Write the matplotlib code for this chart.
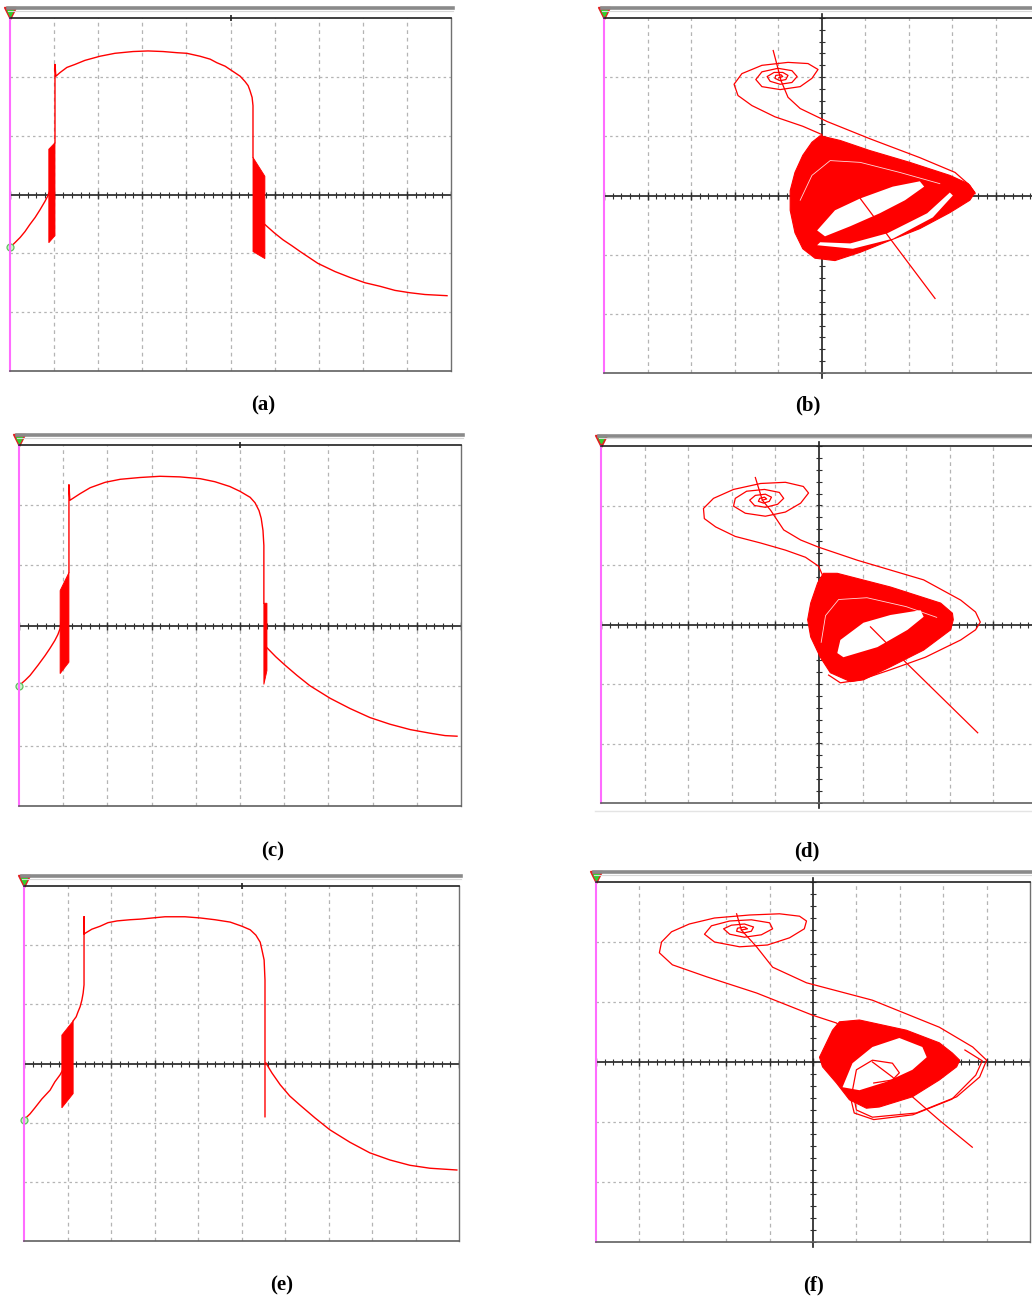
import matplotlib.pyplot as plt
import numpy as np

plt.rcParams['font.family'] = ['Liberation Serif', 'DejaVu Serif']

RED = '#ff0000'
W, H = 1032, 1301

# ---------------- time traces, x in divisions 0..10, y in divisions -3..3
a_rise_x = [0, 0.11, 0.23, 0.34, 0.45, 0.57, 0.68, 0.79, 0.86, 0.93]
a_rise_y = [-0.90, -0.82, -0.73, -0.63, -0.51, -0.39, -0.26, -0.12, -0.02, 0.12]
a_band1_x = [0.88, 1.02, 1.02, 0.88]
a_band1_y = [0.77, 0.88, -0.70, -0.82]
a_arc_x = [1.02, 1.02, 1.04, 1.13, 1.29, 1.47, 1.70, 2.04, 2.38, 2.79, 3.13, 3.47, 3.79, 4.01, 4.31,
           4.54, 4.69, 4.88, 5.06, 5.22, 5.33, 5.40, 5.44, 5.49, 5.51, 5.51, 5.51]
a_arc_y = [0.88, 2.21, 2.01, 2.07, 2.16, 2.21, 2.28, 2.35, 2.40, 2.43, 2.44, 2.43, 2.41, 2.40, 2.35,
           2.30, 2.24, 2.18, 2.09, 2.01, 1.92, 1.85, 1.77, 1.65, 1.51, 1.36, 0.63]
a_band2_x = [5.51, 5.78, 5.78, 5.51]
a_band2_y = [0.63, 0.31, -1.09, -0.97]
a_decay_x = [5.78, 5.99, 6.19, 6.39, 6.58, 6.98, 7.37, 7.71, 8.05, 8.39, 8.73, 9.07, 9.41, 9.91]
a_decay_y = [-0.51, -0.65, -0.77, -0.87, -0.97, -1.17, -1.31, -1.41, -1.50, -1.56, -1.63, -1.67, -1.70, -1.72]

c_rise_x = [0, 0.14, 0.25, 0.43, 0.59, 0.70, 0.81, 0.88, 0.93, 0.97]
c_rise_y = [-1.00, -0.91, -0.83, -0.66, -0.50, -0.38, -0.25, -0.15, -0.05, 0.17]
c_band1_x = [0.93, 1.13, 1.13, 0.93]
c_band1_y = [0.58, 0.88, -0.61, -0.80]
c_arc_x = [1.13, 1.13, 1.15, 1.38, 1.61, 1.95, 2.29, 2.74, 3.19, 3.64, 4.10, 4.43, 4.77, 5.00, 5.23,
           5.34, 5.43, 5.48, 5.52, 5.54, 5.54, 5.54]
c_arc_y = [0.88, 2.34, 2.08, 2.19, 2.29, 2.38, 2.43, 2.46, 2.48, 2.47, 2.44, 2.39, 2.31, 2.23, 2.13,
           2.04, 1.91, 1.78, 1.58, 1.33, 1.08, 0.37]
c_band2_x = [5.54, 5.61, 5.61, 5.54]
c_band2_y = [0.37, 0.37, -0.75, -0.98]
c_decay_x = [5.61, 5.81, 6.02, 6.29, 6.58, 7.04, 7.49, 7.94, 8.39, 8.85, 9.30, 9.64, 9.91]
c_decay_y = [-0.37, -0.52, -0.66, -0.83, -1.00, -1.21, -1.38, -1.53, -1.64, -1.73, -1.79, -1.83, -1.84]

e_rise_x = [0, 0.14, 0.25, 0.41, 0.60, 0.71, 0.83, 0.92, 0.97]
e_rise_y = [-0.95, -0.85, -0.75, -0.60, -0.45, -0.31, -0.19, -0.07, 0.01]
e_band1_x = [0.87, 1.13, 1.13, 0.87]
e_band1_y = [0.48, 0.72, -0.51, -0.75]
e_arc_x = [1.13, 1.20, 1.24, 1.29, 1.33, 1.36, 1.38, 1.38, 1.38, 1.56, 1.75, 1.93, 2.14, 2.44, 2.67,
           3.24, 3.70, 4.05, 4.39, 4.74, 5.01, 5.20, 5.33, 5.43, 5.47, 5.52, 5.54, 5.54, 5.54]
e_arc_y = [0.72, 0.79, 0.87, 0.96, 1.07, 1.19, 1.33, 2.48, 2.19, 2.27, 2.32, 2.38, 2.41, 2.43, 2.44,
           2.48, 2.48, 2.46, 2.43, 2.39, 2.32, 2.26, 2.17, 2.05, 1.92, 1.75, 1.41, 1.07, -0.90]
e_decay_x = [5.56, 5.70, 5.89, 6.11, 6.34, 6.69, 7.03, 7.49, 7.95, 8.41, 8.87, 9.33, 9.95]
e_decay_y = [0.01, -0.16, -0.36, -0.55, -0.70, -0.92, -1.12, -1.33, -1.51, -1.63, -1.72, -1.77, -1.80]

# ---------------- phase portraits, x in divisions -5..5, y -3..3
b_spiral_x = [-0.98, -0.89, -0.93, -1.05, -1.07, -0.95, -0.82, -0.77, -0.89, -1.09, -1.25, -1.18, -0.95,
              -0.68, -0.56, -0.68, -1.00, -1.37, -1.51, -1.37, -0.95, -0.49, -0.22, -0.08, -0.31, -0.77,
              -1.37, -1.83, -2.01, -1.92, -1.60, -1.07, -0.43, 0.01, 0.0]
b_spiral_y = [1.99, 2.01, 2.04, 2.03, 1.98, 1.94, 1.96, 2.03, 2.08, 2.08, 2.01, 1.93, 1.88,
              1.91, 2.01, 2.11, 2.15, 2.09, 1.96, 1.84, 1.79, 1.84, 1.98, 2.13, 2.23, 2.25,
              2.20, 2.06, 1.88, 1.69, 1.52, 1.33, 1.17, 1.03, 0.98]
b_diag_x = [-1.11, -1.02, -0.93, -0.77, -0.49, 0.13, 1.11, 2.26, 3.07, 3.41, 3.53]
b_diag_y = [2.45, 2.20, 1.94, 1.66, 1.47, 1.25, 0.96, 0.64, 0.39, 0.17, 0.03]
b_att_x = [-0.03, 0.43, 1.11, 2.03, 2.95, 3.37, 3.53, 3.41, 2.95, 2.26, 1.57, 0.89, 0.31, -0.15,
           -0.43, -0.61, -0.72, -0.72, -0.61, -0.43, -0.22]
b_att_y = [1.01, 0.93, 0.76, 0.56, 0.34, 0.20, 0.05, -0.08, -0.29, -0.56, -0.76, -0.96, -1.10, -1.06,
           -0.90, -0.63, -0.25, 0.08, 0.39, 0.68, 0.90]
b_hole1_x = [-0.10, 0.31, 0.89, 1.64, 2.26, 2.36, 1.92, 1.34, 0.66, 0.08]
b_hole1_y = [-0.59, -0.25, -0.05, 0.15, 0.24, 0.15, -0.08, -0.30, -0.52, -0.69]
b_hole2_x = [-0.10, 0.72, 1.64, 2.56, 3.02, 2.95, 2.43, 1.51, 0.66, -0.03]
b_hole2_y = [-0.84, -0.90, -0.73, -0.37, 0.0, 0.05, -0.30, -0.64, -0.81, -0.79]
b_gap_x = [-0.49, -0.22, 0.20, 0.89, 1.80, 2.72]
b_gap_y = [-0.08, 0.34, 0.59, 0.56, 0.39, 0.20]
b_tail_x = [0.89, 1.69, 2.61]
b_tail_y = [-0.05, -0.84, -1.74]

d_spiral_x = [-1.30, -1.20, -1.25, -1.36, -1.39, -1.27, -1.14, -1.09, -1.23, -1.46, -1.59, -1.48, -1.23,
              -0.95, -0.81, -0.91, -1.25, -1.66, -1.92, -1.96, -1.69, -1.23, -0.77, -0.42, -0.24, -0.36,
              -0.77, -1.34, -1.96, -2.42, -2.65, -2.63, -2.37, -1.92, -1.34, -0.77, -0.31, -0.01, 0.08]
d_spiral_y = [2.09, 2.11, 2.14, 2.12, 2.07, 2.04, 2.07, 2.14, 2.19, 2.17, 2.09, 2.00, 1.97,
              2.02, 2.12, 2.22, 2.27, 2.24, 2.12, 1.99, 1.87, 1.82, 1.89, 2.04, 2.21, 2.32,
              2.39, 2.37, 2.27, 2.12, 1.95, 1.78, 1.64, 1.48, 1.37, 1.25, 1.13, 0.98, 0.83]
d_diag_x = [-1.46, -1.30, -1.11, -0.81, -0.42, -0.01, 0.88, 2.40, 3.25, 3.59, 3.70, 3.59, 3.25, 2.44,
            1.64, 0.95, 0.49, 0.22]
d_diag_y = [2.47, 2.09, 1.92, 1.59, 1.42, 1.30, 1.08, 0.75, 0.41, 0.21, 0.04, -0.09, -0.26, -0.55,
            -0.76, -0.93, -0.98, -0.85]
d_att_x = [0.10, 0.42, 1.64, 2.79, 3.06, 3.08, 3.02, 2.40, 1.64, 1.02, 0.72, 0.26, 0.03, -0.19,
           -0.26, -0.19, -0.03]
d_att_y = [0.86, 0.86, 0.63, 0.36, 0.19, 0.08, -0.09, -0.43, -0.71, -0.93, -0.96, -0.81, -0.55, -0.21,
           0.08, 0.36, 0.70]
d_hole_x = [0.42, 0.49, 1.02, 1.64, 2.33, 2.40, 2.03, 1.34, 0.56]
d_hole_y = [-0.48, -0.26, 0.03, 0.16, 0.24, 0.13, -0.09, -0.38, -0.55]
d_gap_x = [0.05, 0.15, 0.45, 1.10, 2.00, 2.70]
d_gap_y = [-0.30, 0.15, 0.42, 0.45, 0.30, 0.12]
d_tail_x = [1.18, 1.94, 3.64]
d_tail_y = [-0.04, -0.60, -1.82]

f_spiral_x = [-1.65, -1.51, -1.58, -1.74, -1.76, -1.60, -1.42, -1.37, -1.58, -1.88, -2.06, -1.92, -1.58,
              -1.19, -0.93, -1.00, -1.42, -1.92, -2.34, -2.50, -2.27, -1.69, -1.05, -0.54, -0.20, -0.15,
              -0.31, -0.77, -1.46, -2.27, -2.85, -3.26, -3.49, -3.54, -3.24, -2.45, -1.30, -0.01, 0.54, 0.73]
f_spiral_y = [2.20, 2.22, 2.25, 2.23, 2.18, 2.15, 2.18, 2.25, 2.30, 2.28, 2.22, 2.13, 2.08,
              2.12, 2.22, 2.32, 2.37, 2.35, 2.27, 2.13, 2.00, 1.92, 1.95, 2.07, 2.22, 2.35,
              2.43, 2.47, 2.45, 2.40, 2.30, 2.17, 2.00, 1.82, 1.62, 1.42, 1.15, 0.78, 0.65, 0.53]
f_diag_x = [-1.76, -1.65, -1.30, -0.93, -0.15, 1.37, 2.91, 3.68, 4.00, 3.84, 3.31, 2.38, 1.37, 1.00, 0.91]
f_diag_y = [2.47, 2.20, 1.92, 1.58, 1.32, 1.03, 0.58, 0.25, 0.03, -0.25, -0.58, -0.85, -0.92, -0.80, -0.47]
f_loop_x = [3.50, 3.90, 3.75, 3.20, 2.30, 1.40, 0.95, 0.85]
f_loop_y = [0.20, 0.02, -0.22, -0.62, -0.88, -0.96, -0.85, -0.55]
f_att_x = [0.61, 1.07, 2.15, 2.91, 3.21, 3.38, 3.31, 2.91, 2.29, 1.53, 1.23, 0.84, 0.54, 0.22, 0.15, 0.31, 0.45]
f_att_y = [0.67, 0.70, 0.53, 0.32, 0.15, 0.03, -0.08, -0.30, -0.58, -0.75, -0.77, -0.63, -0.35, -0.08,
           0.08, 0.32, 0.53]
f_hole_x = [0.68, 0.91, 1.37, 1.99, 2.52, 2.62, 2.29, 1.69, 1.07]
f_hole_y = [-0.42, -0.02, 0.25, 0.40, 0.25, 0.08, -0.13, -0.33, -0.47]
f_inner_x = [0.91, 1.00, 1.37, 1.83, 1.99, 1.83, 1.40]
f_inner_y = [-0.47, -0.13, 0.03, -0.02, -0.18, -0.30, -0.35]
f_tail_x = [1.37, 1.83, 2.29, 2.91, 3.67]
f_tail_y = [0.0, -0.25, -0.58, -0.97, -1.42]

labels = ['(a)', '(b)', '(c)', '(d)', '(e)', '(f)']


fig = plt.figure(figsize=(W / 100, H / 100), dpi=100)


def scope(l, t, r, b, phase):
    # panel placed by its pixel box in the page
    ax = fig.add_axes([l / W, 1 - b / H, (r - l) / W, (b - t) / H])
    x0, x1 = (-5, 5) if phase else (0, 10)
    ax.set_xlim(x0, x1)
    ax.set_ylim(-3, 3)
    ax.set_xticks([])
    ax.set_yticks([])
    for v in range(x0 + 1, x1):
        if phase and v == 0:
            continue
        ax.axvline(v, color='#b4b4b4', lw=0.9, dashes=(3, 3), zorder=0)
    for v in [-2, -1, 1, 2]:
        ax.axhline(v, color='#b4b4b4', lw=0.9, dashes=(2, 2.5), zorder=0)
    ax.spines['left'].set_color('#ff6cff')
    ax.spines['left'].set_linewidth(1.5)
    ax.spines['top'].set_color('#202020')
    ax.spines['top'].set_linewidth(1.2)
    ax.spines['bottom'].set_color('#606060')
    ax.spines['bottom'].set_linewidth(1.2)
    ax.spines['right'].set_color('#707070')
    ax.spines['right'].set_linewidth(1.0)
    # centre axes with small ticks
    ax.axhline(0, color='#202020', lw=1.2, zorder=1)
    tx = np.arange(x0, x1 + 0.01, 0.2)
    ax.plot(tx, np.zeros_like(tx), ls='', marker='|', ms=4, mew=0.8, color='#303030', zorder=1)
    mx = np.arange(x0, x1 + 0.01, 1.0)
    ax.plot(mx, np.zeros_like(mx), ls='', marker='|', ms=6, mew=1.0, color='#303030', zorder=1)
    if phase:
        ax.plot([0, 0], [-3.08, 3.06], color='#202020', lw=1.2, zorder=1, clip_on=False)
        ty = np.arange(-3, 3.01, 0.2)
        ax.plot(np.zeros_like(ty), ty, ls='', marker='_', ms=4, mew=0.8, color='#303030', zorder=1)
    else:
        ax.plot([5], [3.0], ls='', marker='|', ms=5, mew=1.2, color='#202020', clip_on=False)
    # gray title bar and the little trigger marker
    fig.add_artist(plt.Line2D([(l - 2) / W, (r + 2) / W], [1 - (t - 10) / H] * 2,
                              color='#8a8a8a', lw=2.6))
    fig.add_artist(plt.Line2D([(l - 2) / W, (r + 2) / W], [1 - (t - 7.5) / H] * 2,
                              color='#d8d8d8', lw=0.8))
    ax.plot([l / W], [1 - (t - 5) / H], transform=fig.transFigure, marker='v', ms=8,
            color='#e02020', clip_on=False)
    ax.plot([l / W], [1 - (t - 5.5) / H], transform=fig.transFigure, marker='v', ms=5,
            color='#30d030', clip_on=False)
    return ax


def trace(ax, rise_x, rise_y, bands, arc_x, arc_y, decay_x, decay_y):
    ax.plot(rise_x, rise_y, color=RED, lw=1.0)
    for bx, by in bands:
        ax.fill(bx, by, color=RED, lw=0.6, ec=RED)
    ax.plot(arc_x, arc_y, color=RED, lw=1.0)
    ax.plot(decay_x, decay_y, color=RED, lw=1.0)
    ax.plot(rise_x[0], rise_y[0], 'o', ms=5, mfc='#c8f5c8', mec='#60c060', mew=0.9, clip_on=False)


def portrait(ax, spiral, diag, att, holes, gaps, extra):
    ax.fill(att[0], att[1], color=RED, lw=0.8, ec=RED, zorder=2)
    for hx, hy in holes:
        ax.fill(hx, hy, color='white', lw=0, zorder=3)
    for gx, gy in gaps:
        ax.plot(gx, gy, color='white', lw=0.6, alpha=0.85, zorder=3)
    ax.plot(spiral[0], spiral[1], color=RED, lw=0.9, zorder=4)
    ax.plot(diag[0], diag[1], color=RED, lw=0.9, zorder=4)
    for ex, ey in extra:
        ax.plot(ex, ey, color=RED, lw=0.9, zorder=4)


ax_a = scope(10, 18, 451, 371, False)
trace(ax_a, a_rise_x, a_rise_y, [(a_band1_x, a_band1_y), (a_band2_x, a_band2_y)],
      a_arc_x, a_arc_y, a_decay_x, a_decay_y)

ax_b = scope(604, 18, 1039, 373, True)
portrait(ax_b, (b_spiral_x, b_spiral_y), (b_diag_x, b_diag_y), (b_att_x, b_att_y),
         [(b_hole1_x, b_hole1_y), (b_hole2_x, b_hole2_y)], [(b_gap_x, b_gap_y)], [(b_tail_x, b_tail_y)])

ax_c = scope(19, 445, 461, 806, False)
trace(ax_c, c_rise_x, c_rise_y, [(c_band1_x, c_band1_y), (c_band2_x, c_band2_y)],
      c_arc_x, c_arc_y, c_decay_x, c_decay_y)

ax_d = scope(601, 446, 1037, 803, True)
portrait(ax_d, (d_spiral_x, d_spiral_y), (d_diag_x, d_diag_y), (d_att_x, d_att_y),
         [(d_hole_x, d_hole_y)], [(d_gap_x, d_gap_y)], [(d_tail_x, d_tail_y)])
fig.add_artist(plt.Line2D([595 / W, 1], [1 - 811 / H] * 2, color='#e4e4e4', lw=1.0))

ax_e = scope(24, 886, 459, 1241, False)
trace(ax_e, e_rise_x, e_rise_y, [(e_band1_x, e_band1_y)], e_arc_x, e_arc_y, e_decay_x, e_decay_y)

ax_f = scope(596, 882, 1030, 1242, True)
portrait(ax_f, (f_spiral_x, f_spiral_y), (f_diag_x, f_diag_y), (f_att_x, f_att_y),
         [(f_hole_x, f_hole_y)], [],
         [(f_tail_x, f_tail_y), (f_loop_x, f_loop_y), (f_inner_x, f_inner_y)])

# sub-figure captions
for lab, (cx, cy) in zip(labels, [(263, 405), (808, 405), (273, 851), (807, 851), (282, 1285), (813, 1285)]):
    fig.text(cx / W, 1 - cy / H, lab, ha='center', va='center', fontsize=15, fontweight='bold')

fig.savefig('out.png', dpi=100)
